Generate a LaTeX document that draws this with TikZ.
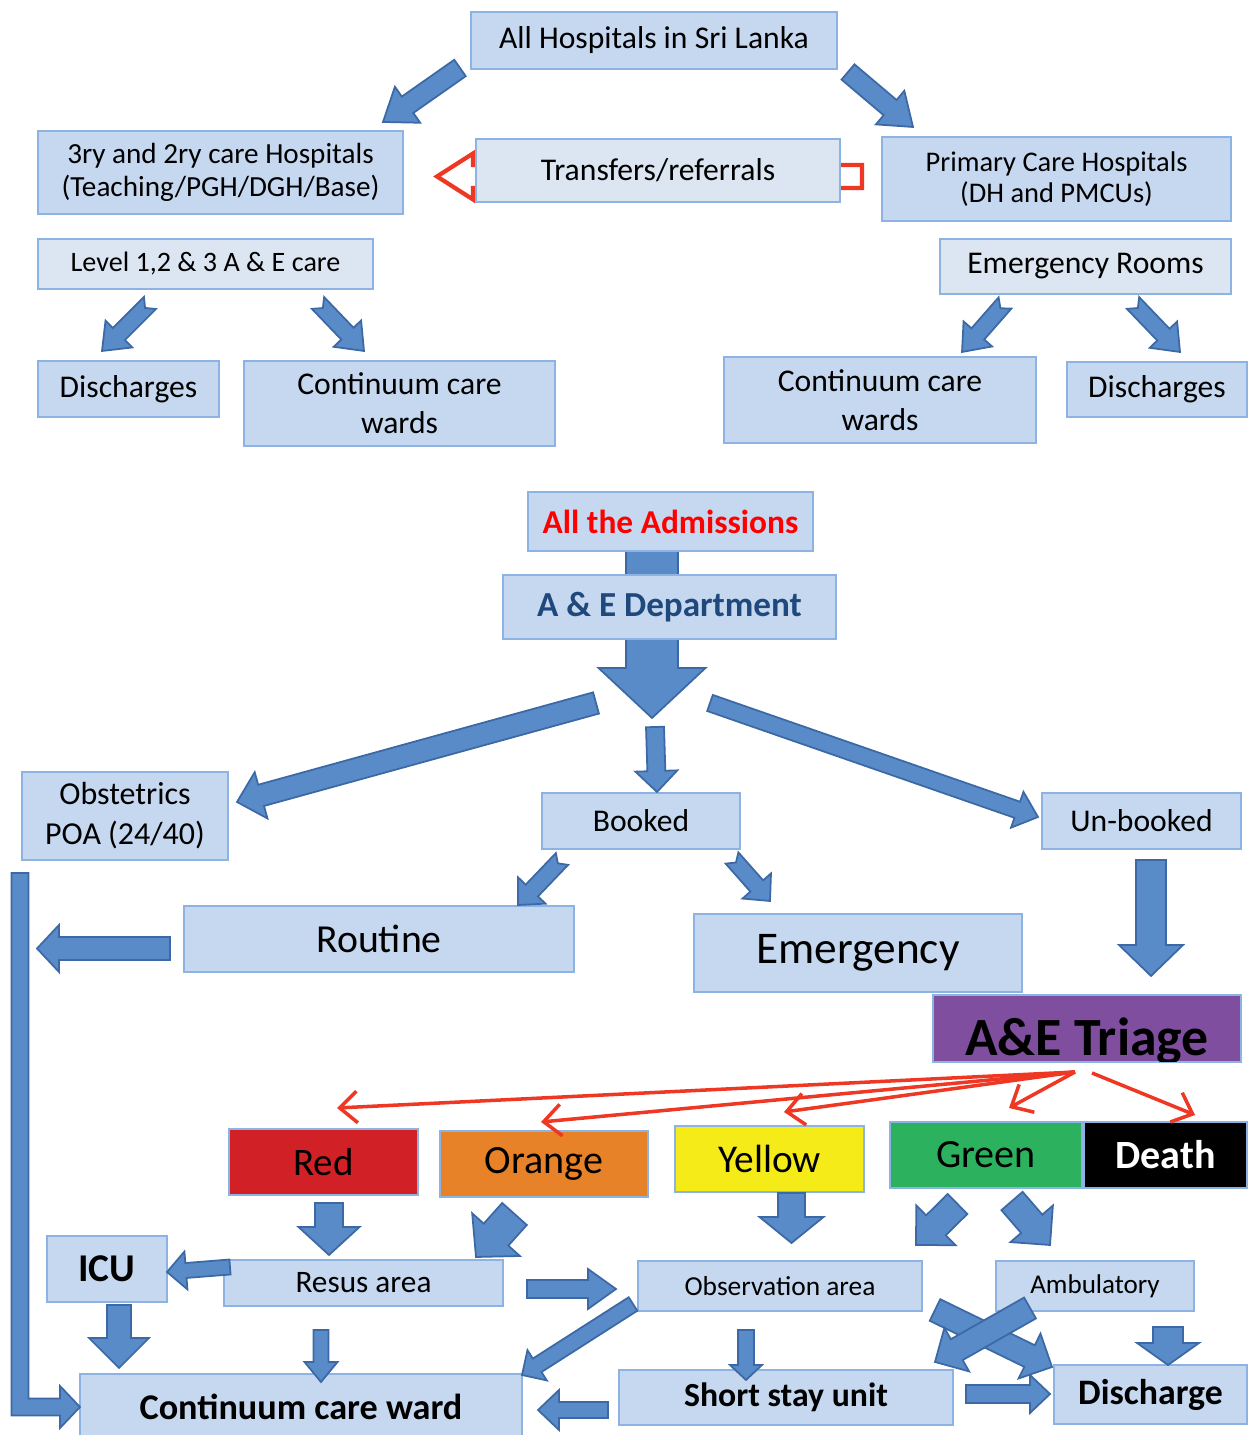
\documentclass[tikz,border=0pt]{standalone}
\usepackage{fontspec}
\setmainfont{Carlito}
\usepackage{tikz}
\usetikzlibrary{arrows.meta,calc}
\definecolor{hpbox}{RGB}{197,216,239}
\definecolor{hpboxlt}{RGB}{220,230,242}
\definecolor{hpedge}{RGB}{141,179,226}
\definecolor{hparrow}{RGB}{88,139,200}
\definecolor{hparrowdk}{RGB}{60,105,165}
\definecolor{hpred}{RGB}{210,32,39}
\definecolor{hplinered}{RGB}{238,56,36}
\definecolor{hporange}{RGB}{232,130,40}
\definecolor{hpyellow}{RGB}{245,235,25}
\definecolor{hpgreen}{RGB}{44,178,94}
\definecolor{hppurple}{RGB}{127,78,158}
\definecolor{hpnavy}{RGB}{31,73,125}

% block arrow: [style]{from}{to}{shaft half}{head half}{head length}{notch}
\newcommand{\fatarrow}[7][bigarrow]{%
  \path (#2) coordinate (fa-a) (#3) coordinate (fa-b);
  \path ($(fa-b)!#6cm!(fa-a)$) coordinate (fa-h);
  \filldraw[#1] ($(fa-a)!#4cm!90:(fa-b)$) -- ($(fa-h)!#4cm!90:(fa-b)$)
    -- ($(fa-h)!#5cm!90:(fa-b)$) -- (fa-b)
    -- ($(fa-h)!#5cm!-90:(fa-b)$) -- ($(fa-h)!#4cm!-90:(fa-b)$)
    -- ($(fa-a)!#4cm!-90:(fa-b)$) -- ($(fa-a)!#7cm!(fa-b)$) -- cycle;
}

\begin{document}
\begin{tikzpicture}[
  every node/.style={draw=hpedge, line width=0.6pt, fill=hpbox, align=center,
                     inner sep=0pt, outer sep=0pt},
  lightbox/.style={fill=hpboxlt},
  fs/.style 2 args={font=\fontsize{#1}{#2}\selectfont},
  fsb/.style 2 args={font=\fontsize{#1}{#2}\selectfont\bfseries},
  bigarrow/.style={fill=hparrow, draw=hparrowdk, line width=0.5pt},
  hollowarrow/.style={fill=white, draw=hplinered, line width=1.2pt},
  triagearrow/.style={draw=hplinered, line width=1pt,
                      -{Straight Barb[length=5pt,width=9pt]}},
]
\useasboundingbox (0,0) rectangle (12.47,14.35);

% === Hospital network (top half) ===
\node[minimum width=3.66cm, minimum height=0.57cm, fs={9}{11}]
      (allh) at (6.54,13.945) {All Hospitals in Sri Lanka};
\node[minimum width=3.65cm, minimum height=0.83cm, fs={8.3}{9.4}]
      (tert) at (2.205,12.625) {3ry and 2ry care Hospitals\\(Teaching/PGH/DGH/Base)};
\node[minimum width=3.49cm, minimum height=0.84cm, fs={8.1}{9}]
      (prim) at (10.565,12.56) {Primary Care Hospitals\\(DH and PMCUs)};

% transfer arrow sits behind its box
\path (6.58,12.645) coordinate (transc);
\node[draw=none, fill=none, minimum width=3.64cm, minimum height=0.63cm]
      (trans) at (transc) {};
\fatarrow[hollowarrow]{$(trans.east)+(0.22,-0.06)$}{$(trans.west)+(-0.39,-0.06)$}{0.115}{0.23}{0.36}{0}
\node[lightbox, minimum width=3.64cm, minimum height=0.63cm, fs={9}{11}]
      at (transc) {Transfers/referrals};

\node[lightbox, minimum width=3.35cm, minimum height=0.50cm, fs={8}{10}]
      (lvl) at (2.055,11.71) {Level 1,2 \& 3 A \& E care};
\node[lightbox, minimum width=2.91cm, minimum height=0.55cm, fs={9}{11}]
      (er) at (10.855,11.685) {Emergency Rooms};

\node[minimum width=1.81cm, minimum height=0.56cm, fs={9}{11}]
      (dischl) at (1.285,10.46) {Discharges};
\node[minimum width=3.11cm, minimum height=0.85cm, fs={9}{11.1}]
      (ccwl) at (3.995,10.315) {Continuum care\\wards};
\node[minimum width=3.12cm, minimum height=0.86cm, fs={9}{11.1}]
      (ccwr) at (8.80,10.35) {Continuum care\\wards};
\node[minimum width=1.80cm, minimum height=0.55cm, fs={9}{11}]
      (dischr) at (11.57,10.455) {Discharges};

% === Arrows: top half ===
\fatarrow{$(allh.south west)+(-0.11,0.01)$}{$(tert.north east)+(-0.20,0.09)$}{0.10}{0.22}{0.30}{0}
\fatarrow{$(allh.south east)+(0.11,-0.03)$}{$(prim.north west)+(0.31,0.10)$}{0.10}{0.22}{0.30}{0}
\fatarrow{$(lvl.south)+(-0.555,-0.14)$}{$(dischl.north)+(-0.265,0.10)$}{0.085}{0.19}{0.24}{0.07}
\fatarrow{$(lvl.south)+(1.125,-0.14)$}{$(ccwl.north)+(-0.355,0.10)$}{0.085}{0.19}{0.24}{0.07}
\fatarrow{$(er.south)+(-0.805,-0.09)$}{$(ccwr.north)+(0.82,0.05)$}{0.085}{0.19}{0.24}{0.07}
\fatarrow{$(er.south)+(0.475,-0.09)$}{$(dischr.north)+(0.23,0.10)$}{0.085}{0.19}{0.24}{0.07}

% === Admissions flow (bottom half) ===
\path (6.705,9.135) coordinate (admc) (6.695,8.28) coordinate (aedc);
\fatarrow{$(admc)+(-0.185,-0.24)$}{$(aedc)+(-0.175,-1.11)$}{0.26}{0.535}{0.50}{0}
\node[minimum width=2.85cm, minimum height=0.59cm, fsb={9.5}{11}, text=red]
      (adm) at (admc) {All the Admissions};
\node[minimum width=3.33cm, minimum height=0.64cm, fsb={10}{12}, text=hpnavy]
      (aed) at (aedc) {A \& E Department};

\node[minimum width=2.06cm, minimum height=0.88cm, fs={9.1}{11.4}]
      (obst) at (1.25,6.19) {Obstetrics\\POA (24/40)};
\node[minimum width=1.98cm, minimum height=0.56cm, fs={9}{11}]
      (booked) at (6.41,6.14) {Booked};
\node[minimum width=1.99cm, minimum height=0.56cm, fs={9}{11}]
      (unbooked) at (11.415,6.14) {Un-booked};
\node[minimum width=3.90cm, minimum height=0.66cm, fs={11.3}{13}]
      (routine) at (3.79,4.96) {Routine};
\node[minimum width=3.28cm, minimum height=0.78cm, fs={12.9}{15}]
      (emerg) at (8.58,4.82) {Emergency};

% triage box, its text is cut at the lower edge
\node[fill=hppurple, minimum width=3.08cm, minimum height=0.67cm]
      (triage) at (10.87,4.065) {};
\begin{scope}
  \clip (triage.south west) rectangle (triage.north east);
  \node[draw=none, fill=none, anchor=base, fsb={15.3}{17}]
        (triagetxt) at (10.87,3.79) {A\&E Triage};
\end{scope}

% === Triage categories ===
\node[fill=hpred, minimum width=1.89cm, minimum height=0.66cm, fs={11.1}{13}]
      (red) at (3.235,2.73) {Red};
\node[fill=hporange, minimum width=2.08cm, minimum height=0.66cm, fs={11.4}{13}]
      (orange) at (5.44,2.71) {Orange};
\node[fill=hpyellow, minimum width=1.89cm, minimum height=0.66cm, fs={11.2}{13}]
      (yellow) at (7.695,2.76) {Yellow};
\node[fill=hpgreen, minimum width=1.92cm, minimum height=0.66cm, fs={11.4}{13}]
      (green) at (9.86,2.80) {Green};
\node[fill=black, text=white, minimum width=1.63cm, minimum height=0.66cm, fsb={11.4}{13}]
      (death) at (11.655,2.80) {Death};

% === Care areas ===
\node[minimum width=1.20cm, minimum height=0.66cm, fsb={11.2}{13}]
      (icu) at (1.07,1.66) {ICU};
\node[minimum width=2.79cm, minimum height=0.46cm, fs={8.9}{11}]
      (resus) at (3.635,1.52) {Resus area};
\node[minimum width=2.84cm, minimum height=0.50cm, fs={7.8}{9}]
      (obsa) at (7.80,1.49) {Observation area};
\node[minimum width=1.98cm, minimum height=0.50cm, fs={7.7}{9}]
      (amb) at (10.95,1.49) {Ambulatory};
\node[minimum width=4.42cm, minimum height=0.66cm, fsb={10.3}{12}]
      (ccw) at (3.01,0.28) {Continuum care ward};
\node[minimum width=3.34cm, minimum height=0.55cm, fsb={9.6}{11}]
      (ssu) at (7.86,0.375) {Short stay unit};
\node[minimum width=1.93cm, minimum height=0.59cm, fsb={10.2}{12}]
      (disch) at (11.505,0.405) {Discharge};

% === Arrows: admissions ===
\fatarrow{$(aed.south)+(-0.735,-0.64)$}{$(obst.east)+(0.09,0.14)$}{0.11}{0.24}{0.25}{0}
\fatarrow{$(aed.south)+(-0.145,-0.88)$}{$(booked.north)+(0.16,0.01)$}{0.09}{0.21}{0.21}{0}
\fatarrow{$(aed.south)+(0.405,-0.64)$}{$(unbooked.west)+(-0.04,0.04)$}{0.085}{0.19}{0.22}{0}
\fatarrow{$(booked.south)+(-0.79,-0.10)$}{$(routine.north east)+(-0.56,0.01)$}{0.085}{0.19}{0.20}{0.06}
\fatarrow{$(booked.south)+(0.91,-0.09)$}{$(emerg.north)+(-0.88,0.13)$}{0.085}{0.19}{0.20}{0.06}
\fatarrow{$(unbooked.south)+(0.095,-0.11)$}{$(triage.north)+(0.64,0.19)$}{0.15}{0.32}{0.31}{0}
\fatarrow{$(routine.west)+(-0.14,-0.095)$}{$(routine.west)+(-1.47,-0.095)$}{0.115}{0.235}{0.22}{0}

% obstetrics line down to the ward
\coordinate (ltop) at ($(obst.south west)+(-0.02,-0.13)$);
\filldraw[bigarrow] ($(ltop)+(-0.085,0)$) -- ($(ltop)+(0.085,0)$)
  |- ($(ccw.west)+(-0.2,0.085)$) -- ++(0,0.125) -- (ccw.west)
  -- ++(-0.2,-0.21) -- ++(0,0.125) -| ($(ltop)+(-0.085,0)$) -- cycle;

% === Arrows: triage ===
\coordinate (tsrc) at ($(triage.south)+(-0.12,-0.10)$);
\coordinate (tsrc2) at ($(triage.south)+(0.05,-0.11)$);
\draw[triagearrow] (tsrc) -- ($(red.north)+(0.135,0.21)$);
\draw[triagearrow] (tsrc) -- ($(orange.north)+(-0.03,0.09)$);
\draw[triagearrow] (tsrc) -- ($(yellow.north)+(0.145,0.14)$);
\draw[triagearrow] (tsrc) -- ($(green.north)+(0.23,0.14)$);
\draw[triagearrow] (tsrc2) -- ($(death.north)+(0.295,0.07)$);

% === Arrows: care areas ===
\fatarrow{$(red.south)+(0.055,-0.08)$}{$(resus.north)+(-0.345,0.05)$}{0.14}{0.305}{0.28}{0}
\fatarrow{$(orange.south)+(-0.295,-0.17)$}{$(resus.north east)+(-0.27,0.03)$}{0.165}{0.32}{0.30}{0}
\fatarrow{$(yellow.south)+(0.22,-0.01)$}{$(obsa.north)+(0.115,0.18)$}{0.135}{0.32}{0.26}{0}
\fatarrow{$(green.south)+(-0.285,-0.16)$}{$(obsa.north east)+(-0.06,0.16)$}{0.14}{0.28}{0.28}{0}
\fatarrow{$(green.south)+(0.26,-0.13)$}{$(amb.north west)+(0.54,0.16)$}{0.14}{0.28}{0.28}{0}
\fatarrow{$(resus.west)+(0.06,0.16)$}{$(icu.east)+(0,-0.03)$}{0.075}{0.19}{0.19}{0}
\fatarrow{$(icu.south)+(0.12,-0.03)$}{$(icu.south)+(0.12,-0.66)$}{0.12}{0.30}{0.30}{0}
\fatarrow{$(resus.south)+(-0.425,-0.24)$}{$(ccw.north)+(0.20,-0.08)$}{0.075}{0.165}{0.20}{0}
\fatarrow{$(resus.east)+(0.24,-0.06)$}{$(obsa.west)+(-0.22,-0.03)$}{0.09}{0.20}{0.28}{0}
\fatarrow{$(obsa.south west)+(-0.05,0.07)$}{$(ccw.north east)+(0,-0.01)$}{0.08}{0.18}{0.18}{0}
\fatarrow{$(obsa.south)+(-0.34,-0.19)$}{$(ssu.north)+(-0.40,-0.10)$}{0.08}{0.16}{0.15}{0}
\fatarrow{$(ssu.west)+(-0.11,-0.125)$}{$(ccw.east)+(0.16,-0.03)$}{0.08}{0.20}{0.21}{0}
\fatarrow{$(ssu.east)+(0.13,0.035)$}{$(disch.west)+(-0.04,0.005)$}{0.09}{0.19}{0.20}{0}
\fatarrow{$(obsa.south east)+(0.13,0.01)$}{$(disch.north west)+(-0.02,-0.02)$}{0.12}{0.25}{0.25}{0}
\fatarrow{$(amb.south west)+(0.34,0.03)$}{$(ssu.north east)+(-0.18,0.08)$}{0.12}{0.25}{0.25}{0}
\fatarrow{$(amb.south)+(0.73,-0.16)$}{$(disch.north)+(0.175,0)$}{0.15}{0.31}{0.22}{0}

\end{tikzpicture}
\end{document}
